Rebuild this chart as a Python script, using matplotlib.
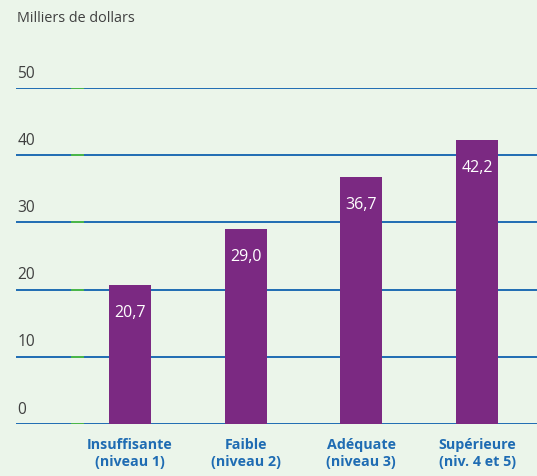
import matplotlib.pyplot as plt

plt.rcParams['font.family'] = ['Open Sans', 'DejaVu Sans']

categories = ["Insuffisante\n(niveau 1)", "Faible\n(niveau 2)",
              "Adéquate\n(niveau 3)", "Supérieure\n(niv. 4 et 5)"]
values = [20.7, 29.0, 36.7, 42.2]
yticks = [0, 10, 20, 30, 40, 50]

bg = "#ebf5ea"
purple = "#7b2982"
blue = "#1f6cb3"

fig = plt.figure(figsize=(5.37, 4.77), dpi=100, facecolor=bg)
ax = fig.add_axes([16 / 537, 52 / 477, 521 / 537, 336 / 477], facecolor=bg)

x = list(range(len(values)))
ax.bar(x, values, width=0.363, color=purple, zorder=3)
ax.set_xlim(-0.985, 3.518)
ax.set_ylim(0, 50)

for v in yticks:
    ax.axhline(v, color=blue, lw=1.4, zorder=2)
    ax.plot([-0.50, -0.41], [v, v], color="#4cb848", lw=1.4, zorder=2.5)
    ax.text(-0.975, v + 1.1, str(v), color="#404040", fontsize=11.2,
            ha="left", va="bottom")

for xi, v in zip(x, values):
    ax.text(xi, v - 4.0, f"{v:.1f}".replace(".", ","), color="white",
            fontsize=11.5, ha="center", va="center", zorder=4)

for xi, c in zip(x, categories):
    ax.text(xi, -4.2, c, color=blue, fontsize=10.3, fontweight="bold",
            ha="center", va="center", linespacing=1.25, clip_on=False)

for s in ax.spines.values():
    s.set_visible(False)
ax.set_xticks([])
ax.set_yticks([])

fig.text(17 / 537, 1 - 18 / 477, "Milliers de dollars", color="#404040",
         fontsize=10.4, ha="left", va="center")

fig.savefig("out.png", dpi=100, facecolor=bg)
